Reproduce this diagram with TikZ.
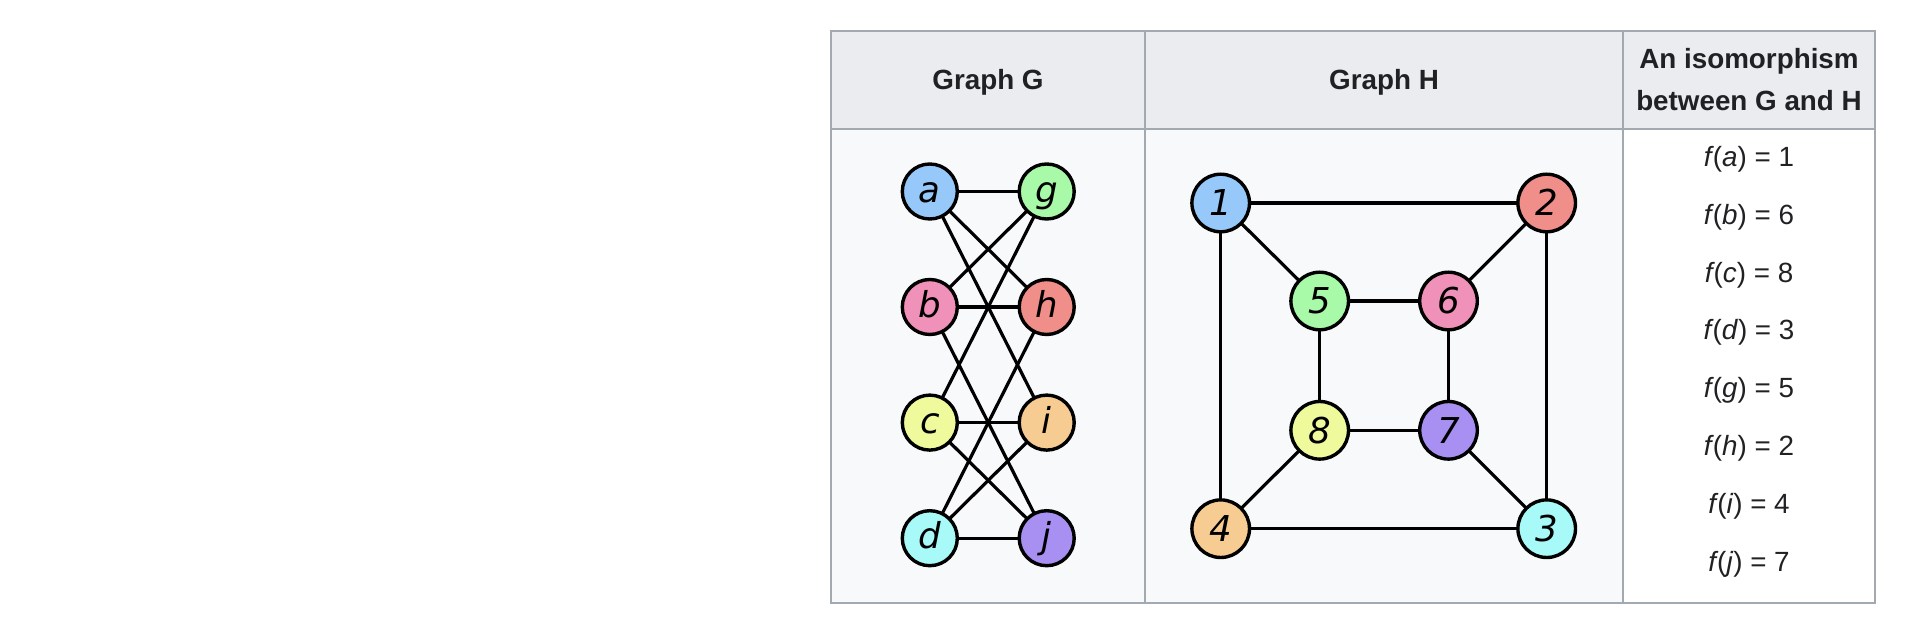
\documentclass[tikz,border=0pt]{standalone}
\usepackage{fontspec}
\setmainfont{Liberation Sans}
\newfontfamily\lblfont{DejaVu Sans}
\definecolor{txt}{HTML}{202122}
\definecolor{bordergray}{HTML}{A2A9B1}
\definecolor{hdrbg}{HTML}{EAECF0}
\definecolor{bodybg}{HTML}{F8F9FA}
\definecolor{cblue}{RGB}{150,200,250}
\definecolor{cgreen}{RGB}{168,250,168}
\definecolor{cpink}{RGB}{240,145,185}
\definecolor{csalmon}{RGB}{240,142,138}
\definecolor{cyellow}{RGB}{238,250,155}
\definecolor{corange}{RGB}{246,204,146}
\definecolor{ccyan}{RGB}{168,250,248}
\definecolor{cpurple}{RGB}{168,144,242}
\newcommand{\fof}[1]{\textit{f}\kern-0.6pt(\textit{#1})}
\begin{document}
\begin{tikzpicture}[x=0.5pt,y=-0.5pt,
  vtx/.style={circle,draw=black,line width=1.7pt,inner sep=0pt,outer sep=0pt,
    minimum size=27.5pt,text height=10.6pt,text depth=0pt,
    font=\lblfont\itshape\fontsize{17.8}{17.8}\selectfont},
  hvtx/.style={vtx,minimum size=28.8pt,text height=13pt},
  edge/.style={line width=1.6pt,draw=black},
  hdr/.style={font=\bfseries\fontsize{13.9}{16}\selectfont,text=txt,anchor=base,inner sep=0pt},
  rowtxt/.style={font=\fontsize{13.9}{16}\selectfont,text=txt,anchor=base,inner sep=0pt},
  cellline/.style={draw=bordergray,line width=1pt}]
\fill[white] (0,0) rectangle (1918,630);
\useasboundingbox (0,0) rectangle (1918,630);
% table
\fill[hdrbg] (831,31) rectangle (1875,128.7);
\fill[bodybg] (831,128.7) rectangle (1622.7,603.3);
\fill[white] (1622.7,128.7) rectangle (1875,603.3);
\draw[cellline] (831,31) rectangle (1875,603.3);
\draw[cellline] (831,128.7) -- (1875,128.7);
\draw[cellline] (1145,31) -- (1145,603.3);
\draw[cellline] (1622.7,31) -- (1622.7,603.3);
% headers
\node[hdr] (hG) at (988,90) {Graph G};
\node[hdr] (hH) at (1384,90) {Graph H};
\node[hdr] (hI1) at (1749,68.3) {An isomorphism};
\node[hdr] (hI2) at (1749,110.7) {between G and H};
% graph G
\node[vtx,fill=cblue] (a) at (929.8,191.5) {a};
\node[vtx,fill=cgreen] (g) at (1046.7,191.5) {g};
\node[vtx,fill=cpink] (b) at (929.8,307) {b};
\node[vtx,fill=csalmon] (h) at (1046.7,307) {h};
\node[vtx,fill=cyellow] (c) at (929.8,422.6) {c};
\node[vtx,fill=corange] (i) at (1046.7,422.6) {i};
\node[vtx,fill=ccyan] (d) at (929.8,538.2) {d};
\node[vtx,fill=cpurple] (j) at (1046.7,538.2) {j};
\foreach \u/\v in {a/g,a/h,a/i,b/g,b/h,b/j,c/g,c/i,c/j,d/h,d/i,d/j}
  \draw[edge] (\u) -- (\v);
% graph H
\node[hvtx,fill=cblue] (n1) at (1220.7,203) {1};
\node[hvtx,fill=csalmon] (n2) at (1546.7,203) {2};
\node[hvtx,fill=cgreen] (n5) at (1319.7,301) {5};
\node[hvtx,fill=cpink] (n6) at (1448.5,301) {6};
\node[hvtx,fill=cyellow] (n8) at (1319.7,430.3) {8};
\node[hvtx,fill=cpurple] (n7) at (1448.5,430.3) {7};
\node[hvtx,fill=corange] (n4) at (1220.7,528.7) {4};
\node[hvtx,fill=ccyan] (n3) at (1546.7,528.7) {3};
\foreach \u/\v in {n1/n2,n1/n4,n1/n5,n2/n3,n2/n6,n3/n4,n3/n7,n4/n8,n5/n6,n5/n8,n6/n7,n7/n8}
  \draw[edge] (\u) -- (\v);
% isomorphism
\node[rowtxt] (fa) at (1749,166.7) {\fof{a} = 1};
\node[rowtxt] (fb) at (1749,224.5) {\fof{b} = 6};
\node[rowtxt] (fc) at (1749,282.3) {\fof{c} = 8};
\node[rowtxt] (fd) at (1749,340.0) {\fof{d} = 3};
\node[rowtxt] (fg) at (1749,397.8) {\fof{g} = 5};
\node[rowtxt] (fh) at (1749,455.6) {\fof{h} = 2};
\node[rowtxt] (fi) at (1749,513.4) {\fof{i} = 4};
\node[rowtxt] (fj) at (1749,571.2) {\fof{j} = 7};
\end{tikzpicture}
\end{document}
